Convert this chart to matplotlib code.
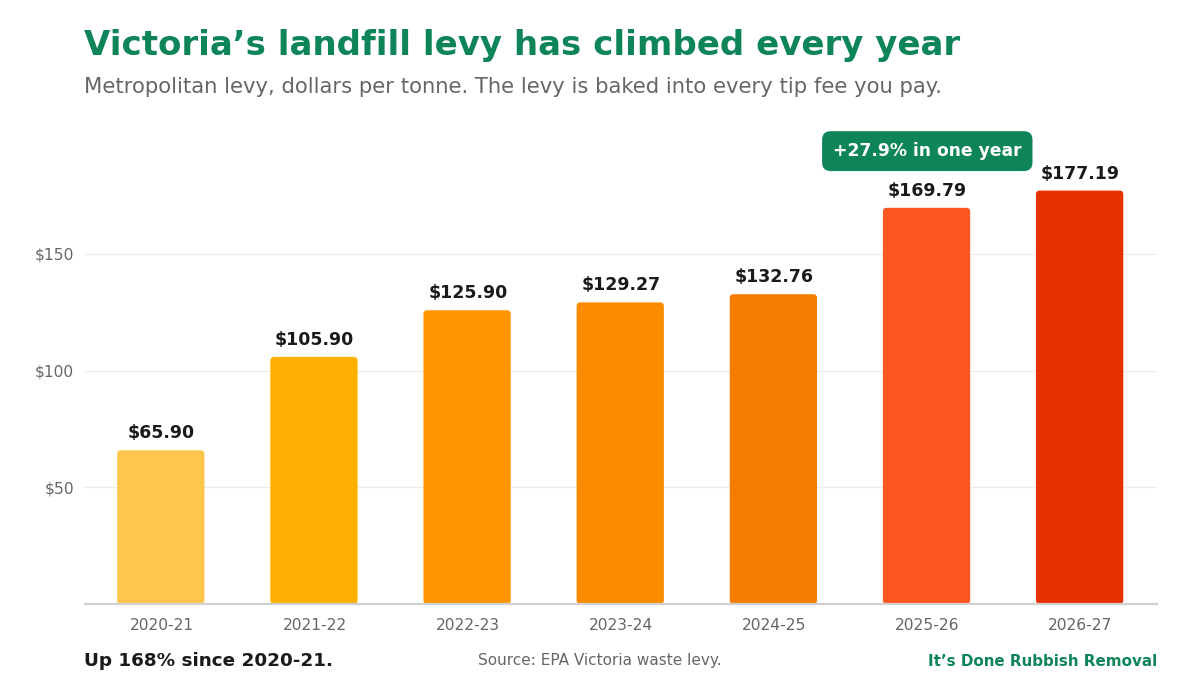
import os
import matplotlib
matplotlib.use("Agg")
import matplotlib.pyplot as plt
from matplotlib import font_manager as fm
from matplotlib.patches import FancyBboxPatch

_fd = os.path.join(matplotlib.get_data_path(), "fonts", "ttf")
for f in ["DejaVuSans.ttf", "DejaVuSans-Bold.ttf"]:
    p = os.path.join(_fd, f)
    if os.path.exists(p):
        fm.fontManager.addfont(p)
plt.rcParams["font.family"] = ["DejaVu Sans"]

years = ["2020-21", "2021-22", "2022-23", "2023-24", "2024-25", "2025-26", "2026-27"]
levy = [65.90, 105.90, 125.90, 129.27, 132.76, 169.79, 177.19]
bar_colors = ["#FFC64C", "#FFB000", "#FF9500", "#FB8C00", "#F57C00", "#FF5722", "#E63100"]
yticks = [50, 100, 150]
ytick_labels = ["$50", "$100", "$150"]
callout = "+27.9% in one year"
callout_idx = 5

GREEN = "#0E8558"
GRAY = "#666666"

fig = plt.figure(figsize=(12, 7), dpi=100)
W, H = 1200, 700
ax_left, ax_right, ax_bottom, ax_top = 85, 1157, 604, 120
ax = fig.add_axes([ax_left / W, 1 - ax_bottom / H, (ax_right - ax_left) / W, (ax_bottom - ax_top) / H])

ymax = (ax_bottom - ax_top) / ((604 - 254) / 150)
ax.set_xlim(-0.5, len(years) - 0.5)
ax.set_ylim(0, ymax)

bw = 0.57
bars = ax.bar([i - 0.005 for i in range(len(years))], levy, width=bw, color=bar_colors)
px_per_x = (ax_right - ax_left) / len(years)
px_per_y = (ax_bottom - ax_top) / ymax
aspect = px_per_x / px_per_y
for b, c in zip(bars, bar_colors):
    b.set_visible(False)
    p = FancyBboxPatch((b.get_x(), 0), b.get_width(), b.get_height(),
                       boxstyle="round,pad=0,rounding_size=0.025",
                       mutation_aspect=aspect, facecolor=c, edgecolor="none", zorder=2)
    ax.add_patch(p)

for i, v in enumerate(levy):
    ax.text(i, v + 3.4, f"${v:.2f}", ha="center", va="bottom", fontsize=12.5,
            fontweight="bold", color="#1a1a1a", zorder=3)

ax.set_yticks(yticks)
ax.set_yticklabels(ytick_labels)
ax.set_xticks(range(len(years)))
ax.set_xticklabels(years)
ax.tick_params(axis="both", length=0, labelsize=11.2, labelcolor=GRAY)
ax.tick_params(axis="x", pad=10)
ax.tick_params(axis="y", pad=8)
ax.grid(axis="y", color="#ececec", linewidth=0.8, zorder=0)
ax.set_axisbelow(True)
for s in ["top", "right", "left"]:
    ax.spines[s].set_visible(False)
ax.spines["bottom"].set_color("#d0d0d0")
ax.spines["bottom"].set_linewidth(1.6)

ax.text(callout_idx, levy[callout_idx] + 24.3, callout, ha="center", va="center",
        fontsize=12.3, fontweight="bold", color="white", zorder=4,
        bbox=dict(boxstyle="round,pad=0.64,rounding_size=0.5", facecolor=GREEN, edgecolor="none"))

fig.text(84 / W, 1 - 46 / H, "Victoria\u2019s landfill levy has climbed every year",
         fontsize=24.5, fontweight="bold", color=GREEN, ha="left", va="center")
fig.text(84 / W, 1 - 87 / H, "Metropolitan levy, dollars per tonne. The levy is baked into every tip fee you pay.",
         fontsize=15.2, color=GRAY, ha="left", va="center")

fig.text(84 / W, 1 - 661 / H, "Up 168% since 2020-21.", fontsize=13.2, fontweight="bold",
         color="#1a1a1a", ha="left", va="center")
fig.text(600 / W, 1 - 661 / H, "Source: EPA Victoria waste levy.", fontsize=11,
         color=GRAY, ha="center", va="center")
fig.text(1157 / W, 1 - 661 / H, "It\u2019s Done Rubbish Removal", fontsize=10.9, fontweight="bold",
         color=GREEN, ha="right", va="center")

fig.savefig("out.png", dpi=100, facecolor="white")
